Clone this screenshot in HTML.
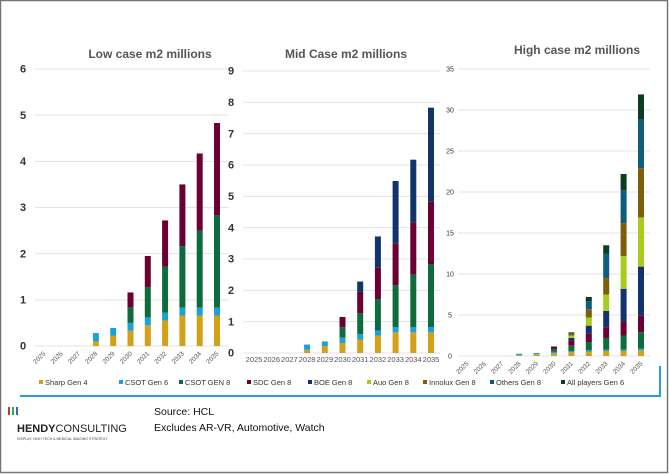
<!DOCTYPE html>
<html><head><meta charset="utf-8"><style>
body{margin:0;background:#fff;font-family:"Liberation Sans",sans-serif}
#wrap{position:relative;width:669px;height:474px;overflow:hidden}
</style></head><body>
<div id="wrap">
<svg id="svg" width="669" height="474" xmlns="http://www.w3.org/2000/svg" font-family="Liberation Sans, sans-serif">
<rect x="0.5" y="0.5" width="667" height="472" fill="#fff" stroke="#777" stroke-width="1.5"/>
<path d="M20 396 H660 V366" fill="none" stroke="#2a9fd8" stroke-width="2"/>
<text x="150" y="58" font-size="12" font-weight="bold" fill="#555" text-anchor="middle">Low case m2 millions</text>
<text x="346" y="58" font-size="12" font-weight="bold" fill="#555" text-anchor="middle">Mid Case m2 millions</text>
<text x="577" y="54" font-size="12" font-weight="bold" fill="#555" text-anchor="middle">High case m2 millions</text>
<g id="charts"></g>
<g id="legend"></g>
<g>
<rect x="8" y="407" width="2" height="8" fill="#c0392b"/><rect x="12" y="407" width="2" height="8" fill="#27ae60"/><rect x="16" y="407" width="2" height="8" fill="#2a6fb8"/>
<text x="17" y="432" font-size="11" fill="#222"><tspan font-weight="bold">HENDY</tspan>CONSULTING</text>
<text x="17" y="440" font-size="3.5" fill="#444">DISPLAY, HIGH TECH &amp; MEDICAL IMAGING STRATEGY</text>
</g>
<text x="154" y="415" font-size="10.5" fill="#111">Source: HCL</text>
<text x="154" y="431" font-size="10.5" fill="#111">Excludes AR-VR, Automotive, Watch</text>
</svg>
</div>
<script>
const years=["2025","2026","2027","2028","2029","2030","2031","2032","2033","2034","2035"];
const seriesNames=["Sharp Gen 4","CSOT Gen 6","CSOT GEN 8","SDC Gen 8","BOE Gen 8","Auo Gen 8","Innolux Gen 8","Others Gen 8","All players Gen 6"];
const seriesColors=["#d4a017","#1ba1d8","#0e6b3e","#6b0032","#12336b","#a8cc1c","#7d5e0a","#0f5d7c","#0b3d22"];
const lowSharp=[0,0,0,0.1,0.22,0.33,0.45,0.55,0.66,0.66,0.66];
const lowCsot6=[0,0,0,0.18,0.17,0.17,0.17,0.17,0.17,0.17,0.17];
const lowCsot8=[0,0,0,0,0,0.33,0.65,1.0,1.33,1.67,2.0];
const lowSdc=[0,0,0,0,0,0.33,0.68,1.0,1.34,1.67,2.0];
const midSharp=[0,0,0,0.1,0.22,0.32,0.43,0.55,0.66,0.66,0.66];
const midCsot6=[0,0,0,0.17,0.15,0.17,0.17,0.17,0.17,0.17,0.17];
const midCsot8=[0,0,0,0,0,0.33,0.67,1.0,1.33,1.67,2.0];
const midSdc=[0,0,0,0,0,0.33,0.68,1.0,1.33,1.67,2.0];
const midBoe=[0,0,0,0,0,0,0.33,1.0,2.0,2.0,3.0];
const highSharp=[0,0,0,0.1,0.22,0.33,0.45,0.5,0.6,0.6,0.7];
const highCsot6=[0,0,0,0.17,0.15,0.17,0.15,0.2,0.2,0.2,0.2];
const highCsot8=[0,0,0,0,0,0.33,0.65,1.0,1.4,1.7,2.0];
const highSdc=[0,0,0,0,0,0.33,0.65,1.0,1.3,1.7,2.0];
const highBoe=[0,0,0,0,0,0,0.3,1.0,2.0,4.0,6.0];
const highAuo=[0,0,0,0,0,0,0.3,1.0,2.0,4.0,6.0];
const highInnolux=[0,0,0,0,0,0,0.3,1.0,2.0,4.0,6.0];
const highOthers=[0,0,0,0,0,0,0.1,1.0,3.0,4.0,6.0];
const highAll6=[0,0,0,0,0,0,0,0.5,1.0,2.0,3.0];
const lowTicks=[0,1,2,3,4,5,6];
const midTicks=[0,1,2,3,4,5,6,7,8,9];
const highTicks=[0,5,10,15,20,25,30,35];

const NS="http://www.w3.org/2000/svg";
const root=document.getElementById('charts');
function mk(tag,attrs,parent){const e=document.createElementNS(NS,tag);for(const k in attrs)e.setAttribute(k,attrs[k]);(parent||root).appendChild(e);return e;}

function chart(cfg){
  const g=mk('g',{});
  
  
  const y=v=>cfg.y0-(v/cfg.max)*(cfg.y0-cfg.yTop);
  const x=i=>cfg.x0+i*cfg.step;
  cfg.ticks.forEach(t=>{
    const l=mk('line',{x1:cfg.gx1,x2:cfg.gx2,y1:y(t),y2:y(t),stroke:'#e3e3e3','stroke-width':1},g);
    
    
    const tx=mk('text',{x:cfg.lx,y:y(t)+cfg.fs/3,'font-size':cfg.fs,fill:'#333','font-weight':cfg.fs>8?'bold':'normal','text-anchor':'middle'},g);
    tx.textContent=t;
    
    
  });
  years.forEach((yr,i)=>{
    let acc=0;
    cfg.series.forEach((arr,s)=>{
      const v=arr[i];if(!v)return;
      const r=mk('rect',{x:x(i)-3,width:6,y:y(acc+v),height:y(acc)-y(acc+v),fill:seriesColors[s]},g);
      
      
      acc+=v;
    });
    let t;
    if(cfg.rot){
      t=mk('text',{x:x(i)+2,y:cfg.y0+8,'font-size':6.5,fill:'#555','text-anchor':'end',transform:`rotate(-45 ${x(i)+2} ${cfg.y0+8})`},g);
    }else{
      t=mk('text',{x:x(i),y:cfg.y0+9,'font-size':7.5,fill:'#555','text-anchor':'middle'},g);
    }
    t.textContent=yr;
    
    
  });
}
chart({name:'low-case-chart',series:[lowSharp,lowCsot6,lowCsot8,lowSdc],ticks:lowTicks,max:6,y0:346,yTop:69,x0:44,step:17.3,gx1:35,gx2:228,lx:23,fs:11,rot:true});
chart({name:'mid-case-chart',series:[midSharp,midCsot6,midCsot8,midSdc,midBoe],ticks:midTicks,max:9,y0:353,yTop:71,x0:254,step:17.7,gx1:243,gx2:440,lx:231,fs:11,rot:false});
chart({name:'high-case-chart',series:[highSharp,highCsot6,highCsot8,highSdc,highBoe,highAuo,highInnolux,highOthers,highAll6],ticks:highTicks,max:35,y0:356,yTop:69,x0:467,step:17.4,gx1:458,gx2:650,lx:450,fs:7,rot:true});

const leg=document.getElementById('legend');
const legX=[39,119,179,247,308,367,423,490,561];
seriesNames.forEach((n,i)=>{
  const r=mk('rect',{x:legX[i],y:380,width:4,height:4,fill:seriesColors[i]},leg);
  
  
  const t=mk('text',{x:legX[i]+6,y:385,'font-size':7.5,fill:'#333'},leg);
  t.textContent=n;
  
  
});
</script>
</body></html>
